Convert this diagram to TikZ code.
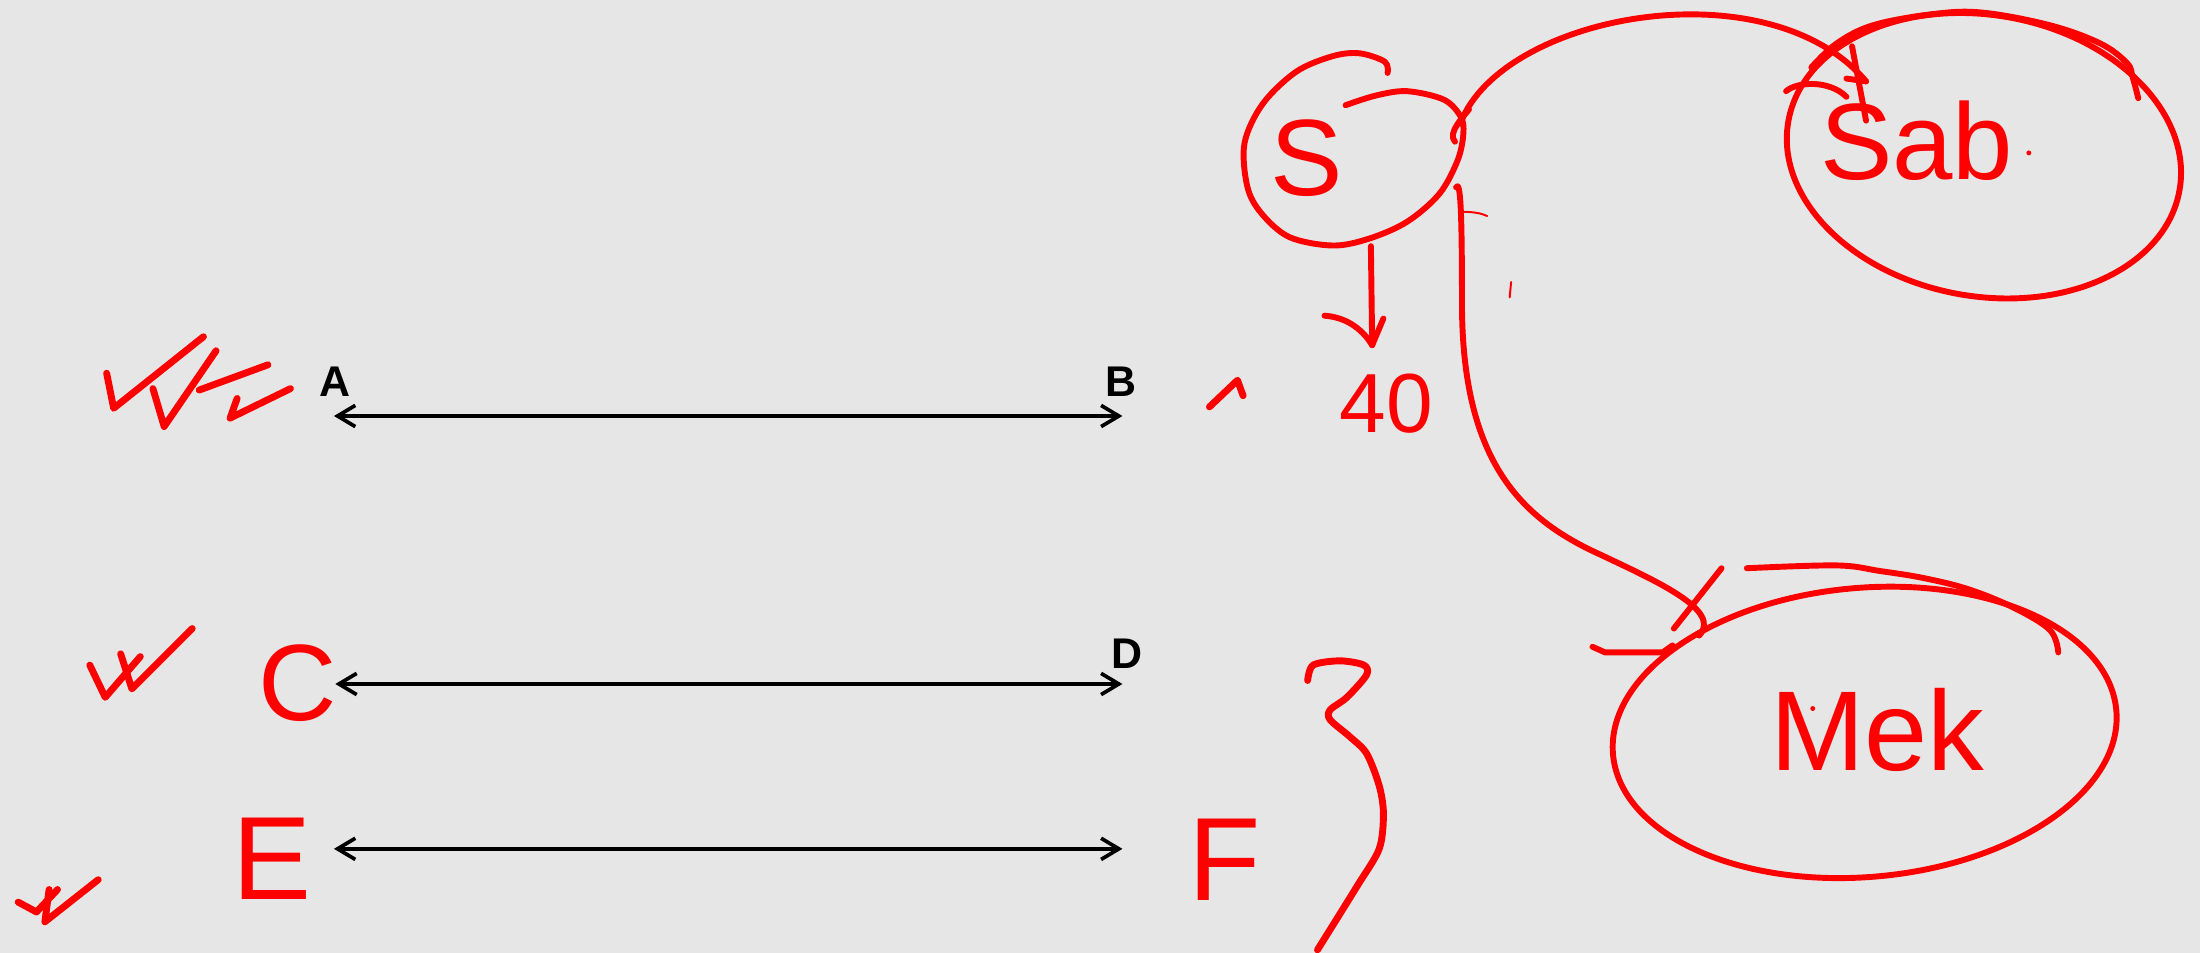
\documentclass[tikz,border=0pt]{standalone}
\usepackage{fontspec}
\setmainfont{Liberation Sans}
\setsansfont{Liberation Sans}
\usepackage{tikz}
\usetikzlibrary{arrows.meta}
\usetikzlibrary{shapes,shapes.geometric}
\usetikzlibrary{calc,positioning}
\pgfdeclarelayer{background}
\pgfdeclarelayer{edgelayer}
\pgfdeclarelayer{nodelayer}
\pgfsetlayers{background,edgelayer,nodelayer,main}
\definecolor{slide}{RGB}{230,230,230}
\definecolor{pen}{RGB}{255,0,0}
\newcommand{\penfont}[1]{\fontsize{#1}{#1}\selectfont}
\tikzstyle{none}=[inner sep=0mm]
\tikzstyle{caps}=[inner sep=0mm,font=\sffamily\bfseries\fontsize{8.7}{9}\selectfont]
\tikzstyle{scrawl}=[inner sep=0mm,text=pen,font=\sffamily]
\tikzstyle{ink}=[draw=pen,line width=1.2pt,line cap=round,line join=round]
\tikzstyle{tick}=[ink,line width=1.4pt]
\tikzstyle{thin ink}=[ink,line width=0.4pt]
\tikzstyle{ring}=[ink,shape=ellipse,inner sep=0mm]
\tikzstyle{twoway}=[line width=0.75pt,{Straight Barb[length=3.6pt,width=4.3pt]}-{Straight Barb[length=3.6pt,width=4.3pt]}]

\begin{document}
\begin{tikzpicture}[x=0.01cm,y=-0.01cm]
	\begin{pgfonlayer}{background}
		\fill[slide] (0,0) rectangle (1568,679);
	\end{pgfonlayer}
	\useasboundingbox (0,0) rectangle (1568,679);
	\begin{pgfonlayer}{nodelayer}
		\node [style=caps] (0) at (239,272) {A};
		\node [style=caps] (1) at (799,272) {B};
		\node [style=caps] (2) at (803,466) {D};
		\node [style=none] (3) at (238,296.5) {};
		\node [style=none] (4) at (800,296.5) {};
		\node [style=none] (5) at (239,487.5) {};
		\node [style=none] (6) at (800,487.5) {};
		\node [style=none] (7) at (238,605) {};
		\node [style=none] (8) at (800,605) {};
		\node [style=scrawl, font=\sffamily\penfont{22}] (9) at (212,487) {C};
		\node [style=scrawl, font=\sffamily\penfont{24}] (10) at (194,612) {E};
		\node [style=scrawl, font=\sffamily\penfont{24}] (11) at (873,613) {F};
		\node [style=scrawl, font=\sffamily\penfont{22}] (12) at (931,113) {S};
		\node [style=scrawl, font=\sffamily\penfont{17}] (13) at (988,288) {40};
		\node [style=scrawl, font=\sffamily\penfont{22}] (14) at (1366,100) {Sab};
		\node [style=none, shape=ellipse, minimum width=44.4pt, minimum height=39pt] (15) at (965,107) {};
		\node [style=ring, minimum width=80.5pt, minimum height=57pt, rotate=-10] (16) at (1414,111) {};
		\node [style=ring, minimum width=102.4pt, minimum height=58.6pt, rotate=5] (17) at (1329,522) {};
		\node [style=none] (18) at (1330,58) {};
		\node [style=none] (19) at (978,246) {};
		\node [style=none] (20) at (1211,453) {};
		\node [style=scrawl, font=\sffamily\penfont{23}] (21) at (1338,520) {Mek};
	\end{pgfonlayer}
	\begin{pgfonlayer}{edgelayer}
		\draw [style=twoway] (3.center) to (4.center);
		\draw [style=twoway] (5.center) to (6.center);
		\draw [style=twoway] (7.center) to (8.center);
		\draw [style=ink] plot [smooth, tension=0.55] coordinates {(989,52) (987,44) (969,38) (950,40) (924,51) (900,74) (887,102) (889,133) (899,152) (919,169) (950,175) (976,170) (1003,158) (1026,138) (1039,114) (1043,95) (1041,83) (1029,71) (1003,65) (981,68) (959,75)};
		\draw [style=ink] (15.14) .. controls (1070,10) and (1260,-25) .. (18.center);
		\draw [style=ink] (1037,101) .. controls (1031,95) and (1044,82) .. (1047,78);
		\draw [style=ink] (1273,65) .. controls (1281,58) and (1304,57) .. (1316,69);
		\draw [style=ink] (1320,33) -- (1330,86);
		\draw [style=ink] (1316,56) -- (18.center);
		\draw [style=ink] plot [smooth, tension=0.6] coordinates {(1291,48) (1309,31) (1335,18) (1378,10) (1413,9) (1461,18) (1497,31) (1516,45) (1520,55) (1524,70)};
		\draw [style=ink] (15.-80) -- (19.center);
		\draw [style=ink] (944,225) .. controls (958,226) and (970,233) .. (19.center);
		\draw [style=ink] (986,227) -- (19.center);
		\draw [style=ink] (15.-20) .. controls (1041,128) and (1042,150) .. (1042,220) .. controls (1043,330) and (1085,370) .. (1140,395) .. controls (1180,414) and (1228,435) .. (20.center);
		\draw [style=ink] (1227,405) -- (1193,448);
		\draw [style=ink] (1135,461) -- (1144,465) -- (1185,465) -- (1192,460);
		\draw [style=ink] plot [smooth, tension=0.6] coordinates {(1245,405) (1309,403) (1340,407) (1371,412) (1403,420) (1435,433) (1461,449) (1467,465)};
		\draw [style=thin ink] (1043,151) .. controls (1050,151) and (1056,152) .. (1060,154);
		\draw [style=thin ink] (1077,201) -- (1076,212);
		\fill [pen] (1446,109) circle (0.5pt);
		\fill [pen] (1292,505) circle (0.5pt);
		\draw [style=tick] plot [smooth, tension=0.5] coordinates {(932,485) (936,474) (955,471) (972,474) (974,481) (960,497) (948,506) (948,513) (962,525) (974,537) (983,560) (986,580) (983,605) (967,632) (939,677)};
		\draw [style=tick] (76,266) -- (81,291) -- (145,240);
		\draw [style=tick] (109,277) -- (117,304) -- (154,250);
		\draw [style=tick] (142,278) -- (191,260);
		\draw [style=tick] (169,284) -- (164,298) -- (207,277);
		\draw [style=tick] (64,474) -- (75,497) -- (100,468);
		\draw [style=tick] (86,466) -- (94,491) -- (137,448);
		\draw [style=tick] (13,643) -- (26,650) -- (41,634);
		\draw [style=tick] (35,634) -- (32,657) -- (70,627);
		\draw [style=tick] (862,290) -- (882,271) -- (886,282);
	\end{pgfonlayer}
\end{tikzpicture}
\end{document}
